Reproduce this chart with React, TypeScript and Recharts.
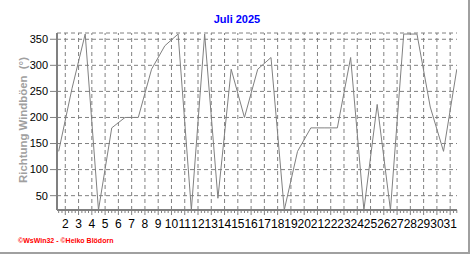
import { LineChart, Line, XAxis, YAxis, CartesianGrid, ReferenceLine } from 'recharts'

// Richtung der Windböen, Tageswerte Juli 2025 (Grad)
const days = [1, 2, 3, 4, 5, 6, 7, 8, 9, 10, 11, 12, 13, 14, 15, 16, 17, 18, 19, 20, 21, 22, 23, 24, 25, 26, 27, 28, 29, 30, 31]
const direction = [
  135, 255, 360, 22.5, 180, 200, 200, 292.5, 337.5, 360,
  22.5, 360, 45, 292.5, 200, 292.5, 315, 22.5, 135, 180,
  180, 180, 315, 22.5, 225, 22.5, 360, 360, 220, 135, 292.5,
]
const dayLabels = [2, 3, 4, 5, 6, 7, 8, 9, 10, 11, 12, 13, 14, 15, 16, 17, 18, 19, 20, 21, 22, 23, 24, 25, 26, 27, 28, 29, 30, 31]
const yTicks = [50, 100, 150, 200, 250, 300, 350]

// points sit at noon of each day, labels at midnight
const data = days.map((d, i) => ({ t: d + 0.5, v: direction[i] }))

const xDomain = [1.375, 31.515]
const minorTicks: number[] = []
for (let q = 6; q <= 126; q++) {
  const t = q / 4
  if (t >= xDomain[0] && t <= xDomain[1]) minorTicks.push(t)
}

const GRAY = '#808080'
const font = 'Arial, "Liberation Sans", sans-serif'

const DayTick = (props: any) => {
  const { x, y, payload } = props
  const v = payload.value
  const isDay = Math.abs(v - Math.round(v)) < 1e-6
  return (
    <g>
      <line x1={x} x2={x} y1={y} y2={y + (isDay ? 5 : 3)} stroke={GRAY} />
      {isDay && dayLabels.includes(Math.round(v)) && (
        <text x={x} y={y + 17.5} textAnchor="middle" fontSize={12} fill="#000" fontFamily={font}>
          {Math.round(v)}
        </text>
      )}
    </g>
  )
}

export default function App() {
  return (
    <div style={{ position: 'absolute', left: 0, top: 0, width: 472, height: 255, background: '#fff', fontFamily: font }}>
      <div style={{ position: 'absolute', left: 0, top: 0, width: 470, height: 254, boxSizing: 'border-box', borderRight: '2px solid #a0a0a0', borderBottom: '2px solid #a0a0a0' }} />
      <div style={{ position: 'absolute', left: 0, width: 474, top: 12, textAlign: 'center', color: '#0000ff', fontWeight: 'bold', fontSize: 11, lineHeight: '14px' }}>
        Juli 2025
      </div>
      <div style={{ position: 'absolute', left: 23, top: 120, transform: 'translate(-50%, -50%) rotate(-90deg)', whiteSpace: 'pre', color: '#a0a0a0', fontWeight: 'bold', fontSize: 11.4, lineHeight: '14px' }}>
        {'Richtung Windböen  (°)'}
      </div>
      <div style={{ position: 'absolute', left: 18, top: 236, color: '#ff0000', fontWeight: 'bold', fontSize: 7, lineHeight: '9px', whiteSpace: 'pre' }}>
        {'©WsWin32 - ©Heiko Blödorn'}
      </div>
      <LineChart width={472} height={255} data={data} margin={{ top: 33, right: 15, bottom: 15, left: 7 }}>
        <CartesianGrid vertical={false} stroke={GRAY} strokeDasharray="4 3" />
        {dayLabels.map((d) => (
          <ReferenceLine key={d} x={d} stroke={GRAY} strokeDasharray="4 3" />
        ))}
        <XAxis
          type="number"
          dataKey="t"
          domain={xDomain}
          allowDataOverflow
          ticks={minorTicks}
          interval={0}
          tickSize={0}
          tickMargin={0}
          tickLine={false}
          tick={<DayTick />}
          height={30}
          axisLine={{ stroke: GRAY, strokeWidth: 2 }}
        />
        <XAxis xAxisId="top" orientation="top" type="number" domain={xDomain} height={0} tick={false} tickLine={false} axisLine={{ stroke: '#000' }} />
        <YAxis
          type="number"
          domain={[22.5, 362]}
          allowDataOverflow
          ticks={yTicks}
          interval={0}
          width={50}
          tickSize={7}
          tickMargin={2}
          tick={{ fontSize: 11, fill: '#000', fontFamily: font }}
          tickLine={{ stroke: GRAY }}
          axisLine={{ stroke: GRAY, strokeWidth: 2 }}
        />
        <YAxis yAxisId="r" orientation="right" type="number" domain={[0, 1]} width={0} tick={false} tickLine={false} axisLine={{ stroke: '#000' }} />
        <Line type="linear" dataKey="v" stroke={GRAY} strokeWidth={1} dot={false} isAnimationActive={false} />
      </LineChart>
    </div>
  )
}
